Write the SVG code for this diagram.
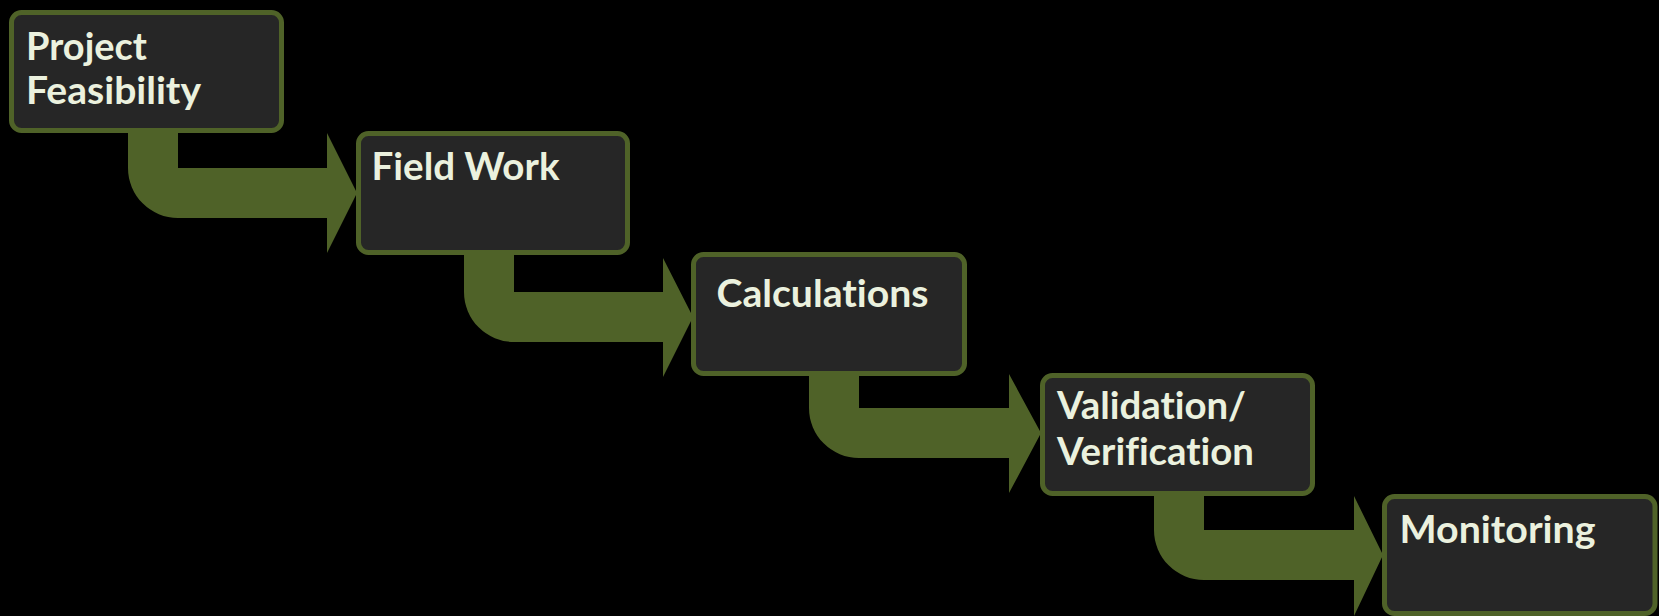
<svg xmlns="http://www.w3.org/2000/svg" width="1659" height="616" viewBox="0 0 1659 616">
<style>
.bg{fill:#000000}
.arrow{fill:#4F6228}
.box{fill:#262626;stroke:#4F6228;stroke-width:5}
.label{font-family:Lato,"Open Sans","Liberation Sans",sans-serif;font-weight:bold;font-size:38px;fill:#EBF1DE;font-variant-ligatures:none;font-feature-settings:"liga" 0,"clig" 0}
</style>
<rect class="bg" x="0" y="0" width="1659" height="616"/>
<g id="connectors">
<path class="arrow" d="M128,125 H178 V168 H327 V133 L357,193 L327,253 V218 H178 A50,50 0 0 1 128,168 Z"/>
<path class="arrow" d="M464,247 H514 V292 H663 V258 L693,317 L663,377 V342 H514 A50,50 0 0 1 464,292 Z"/>
<path class="arrow" d="M809,368 H859 V408 H1009 V374 L1041,433 L1009,493 V458 H859 A50,50 0 0 1 809,408 Z"/>
<path class="arrow" d="M1154,488 H1204 V530 H1354 V496 L1383,555 L1354,616 V580 H1204 A50,50 0 0 1 1154,530 Z"/>
</g>
<g id="node-project-feasibility">
<rect class="box" x="11.5" y="12.5" width="270" height="118" rx="10"/>
<text class="label" x="26" y="59.5" textLength="121" lengthAdjust="spacingAndGlyphs">Project</text>
<text class="label" x="26" y="104" textLength="175" lengthAdjust="spacingAndGlyphs">Feasibility</text>
</g>
<g id="node-field-work">
<rect class="box" x="358.5" y="133.5" width="269" height="119" rx="10"/>
<text class="label" x="371.5" y="180" textLength="188" lengthAdjust="spacingAndGlyphs">Field Work</text>
</g>
<g id="node-calculations">
<rect class="box" x="693.5" y="254.5" width="271" height="119" rx="10"/>
<text class="label" x="716.5" y="306.5" textLength="212" lengthAdjust="spacingAndGlyphs">Calculations</text>
</g>
<g id="node-validation-verification">
<rect class="box" x="1042.5" y="375.5" width="270" height="118" rx="10"/>
<text class="label" x="1057" y="419" textLength="189" lengthAdjust="spacingAndGlyphs">Validation/</text>
<text class="label" x="1057" y="465" textLength="197" lengthAdjust="spacingAndGlyphs">Verification</text>
</g>
<g id="node-monitoring">
<rect class="box" x="1384.5" y="496.5" width="270.5" height="117" rx="10"/>
<text class="label" x="1399.5" y="542.5" textLength="196" lengthAdjust="spacingAndGlyphs">Monitoring</text>
</g>
</svg>
